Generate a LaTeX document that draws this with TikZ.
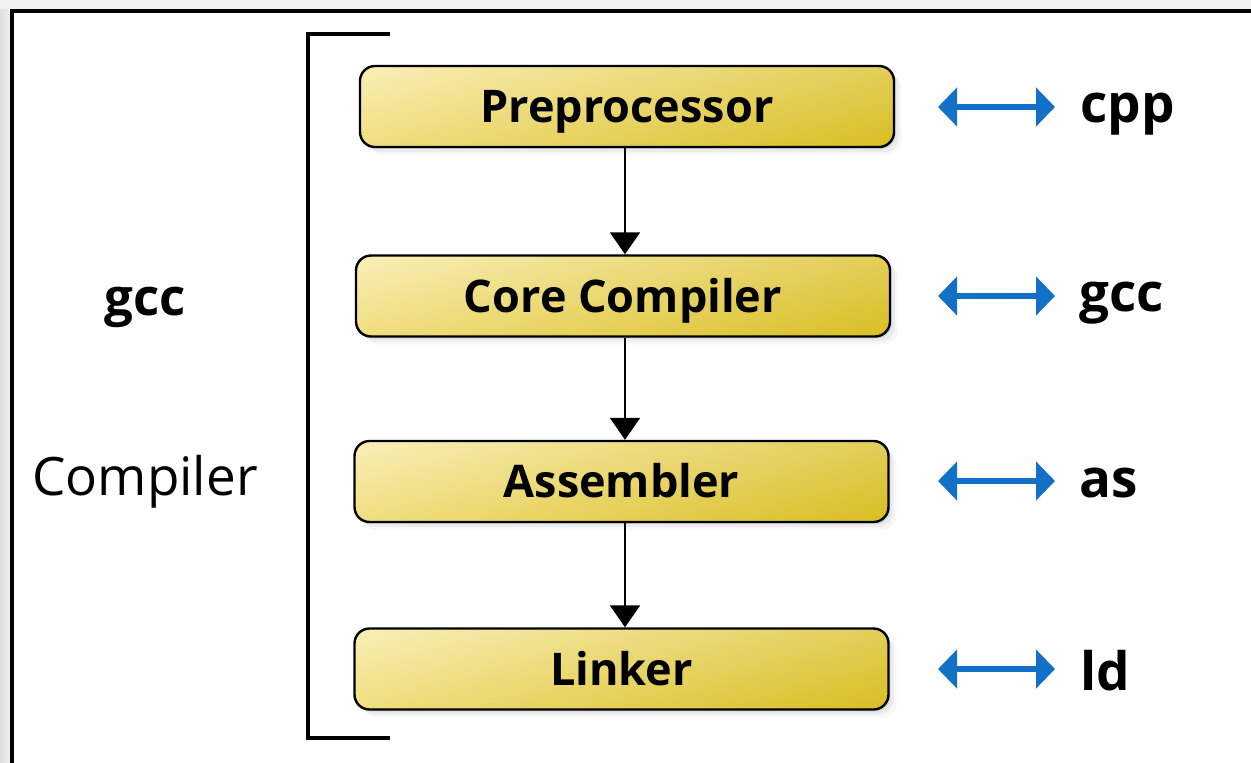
\documentclass[tikz,border=0pt]{standalone}
\usepackage{fontspec}
\setmainfont{Open Sans}
\usetikzlibrary{arrows.meta,shadows,calc}
\definecolor{bgray}{HTML}{F2F2F2}
\definecolor{ylight}{HTML}{F8EAA0}
\definecolor{ymid}{HTML}{EEDC6E}
\definecolor{ydark}{HTML}{D9BE22}
\definecolor{arrblue}{HTML}{1270C6}
\tikzset{
  stage/.style={draw=black, line width=1.2pt, rounded corners=7.5pt,
    minimum width=267pt, minimum height=40.5pt, inner sep=0pt,
    left color=ylight, middle color=ymid, right color=ydark,
    path picture={\shade[top color=white, bottom color=ydark, opacity=0.25]
      (path picture bounding box.south west) rectangle (path picture bounding box.north east);},
    font=\fontsize{22.5}{27}\selectfont\bfseries,
    text height=16pt, text depth=0pt,
    drop shadow={shadow xshift=1pt, shadow yshift=-1pt, opacity=.18},
    drop shadow={shadow xshift=2.5pt, shadow yshift=-2.5pt, opacity=.10},
    drop shadow={shadow xshift=4pt, shadow yshift=-4pt, opacity=.05}},
  flow/.style={line width=1pt, -{Triangle[width=15pt,length=11pt]}},
  biarrow/.style={draw=arrblue, line width=2.6pt,
    {Triangle[width=19pt,length=9.5pt]}-{Triangle[width=19pt,length=9.5pt]}},
  tool/.style={anchor=base west, inner sep=0pt, font=\fontsize{26.5}{32}\selectfont\bfseries},
  side/.style={anchor=base, inner sep=0pt, font=\fontsize{26.5}{30}\selectfont}
}
\begin{document}
\begin{tikzpicture}[x=0.5pt,y=-0.5pt]
\useasboundingbox (0,0) rectangle (1251,762);
% background and frame
\fill[bgray] (0,0) rectangle (1251,762);
\shade[left color=gray!25, right color=bgray] (0,9) rectangle (11,762);
\fill[white] (12,11) rectangle (1262,775);
\draw[line width=2pt] (12,775) -- (12,11) -- (1262,11);
% bracket
\draw[line width=2pt] (390,34) -- (308,34) -- (308,738) -- (390,738);
% side labels
\node[side, font=\fontsize{25.5}{30}\selectfont\bfseries] (lgcc) at (145,315) {gcc};
\node[side] (lcomp) at (145,495) {Compiler};
% stages
\node[stage] (P) at (627,106.5) {Preprocessor};
\node[stage] (C) at (623,296) {Core Compiler};
\node[stage] (A) at (621.5,481.5) {Assembler};
\node[stage] (L) at (621.5,669) {Linker};
% flow arrows
\coordinate (ax) at (625,0);
\draw[flow] (P.south -| ax) -- (C.north -| ax);
\draw[flow] (C.south -| ax) -- (A.north -| ax);
\draw[flow] (A.south -| ax) -- (L.north -| ax);
% tools
\node[tool] (tcpp) at (1080,122) {cpp};
\node[tool] (tgcc) at (1079,311) {gcc};
\node[tool] (tas) at (1079,497) {as};
\node[tool] (tld) at (1080,690) {ld};
\foreach \n/\y in {P/107,C/296,A/481,L/669}{
  \coordinate (\n l) at (938,\y);
  \coordinate (\n r) at (1055,\y);
  \draw[biarrow] (\n l) -- (\n r);
}
\end{tikzpicture}
\end{document}
